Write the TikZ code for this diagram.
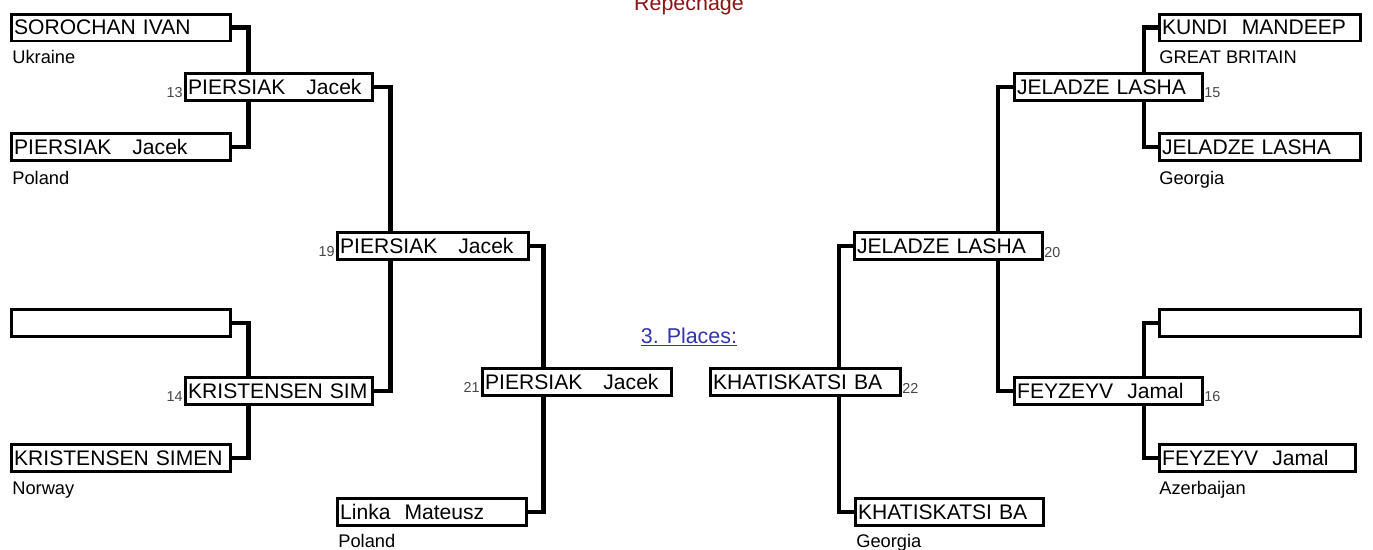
\documentclass[tikz,border=0pt]{standalone}
\usepackage{fontspec}
\setmainfont{Liberation Sans}
\usetikzlibrary{backgrounds}
\definecolor{repred}{RGB}{140,20,20}
\definecolor{placeblue}{RGB}{51,51,170}
\definecolor{numgray}{RGB}{70,70,70}

\begin{document}
\begin{tikzpicture}[x=0.02cm,y=-0.02cm,
  box/.style={draw,fill=white,line width=1.7pt,anchor=west,minimum height=0.54cm,
    text width=#1,inner xsep=1.5pt,inner ysep=0pt,align=left,
    font=\fontsize{12}{14}\selectfont},
  land/.style={anchor=base west,inner sep=0pt,font=\fontsize{10.4}{12}\selectfont},
  nrl/.style={anchor=base east,inner sep=0pt,text=numgray,font=\fontsize{8.2}{10}\selectfont},
  nrr/.style={anchor=base west,inner sep=0pt,text=numgray,font=\fontsize{8.2}{10}\selectfont},
  link/.style={line width=2.8pt}]
\useasboundingbox (0,0) rectangle (1373,549);
% first round, left
\node[box=4.27cm] (sorochan) at (10,27.5) {SOROCHAN IVAN};
\node[land] (ukr) at (12,63) {Ukraine};
\node[box=4.27cm] (piersiakPL) at (10,147) {PIERSIAK\ \ \ Jacek};
\node[land] (pol1) at (12,184) {Poland};
\node[box=4.27cm] (emptyL) at (10,323) {};
\node[box=4.27cm] (kristensen) at (10,458) {\mbox{KRISTENSEN SIMEN}};
\node[land] (nor) at (12,494) {Norway};
% rounds 13, 14, 19, 21
\node[box=3.63cm] (w13) at (184,87) {PIERSIAK\ \ \ Jacek};
\node[nrl] (n13) at (183,97) {13};
\node[box=3.63cm] (w14) at (184,391) {\mbox{KRISTENSEN SIM}};
\node[nrl] (n14) at (183,401) {14};
\node[box=3.71cm] (w19) at (336,246) {PIERSIAK\ \ \ Jacek};
\node[nrl] (n19) at (335,256) {19};
\node[box=3.67cm] (w21) at (481,382) {PIERSIAK\ \ \ Jacek};
\node[nrl] (n21) at (480,392) {21};
\node[box=3.67cm] (linka) at (336,512) {Linka\ \ Mateusz};
\node[land] (pol2) at (338,547) {Poland};
% right side
\node[box=3.69cm] (w22) at (709,382) {KHATISKATSI BA};
\node[nrr] (n22) at (902,393) {22};
\node[box=3.65cm] (khatiskatsi) at (854,512) {KHATISKATSI BA};
\node[land] (geo2) at (856,547) {Georgia};
\node[box=3.65cm] (w20) at (853,246) {JELADZE LASHA};
\node[nrr] (n20) at (1044,257) {20};
\node[box=3.65cm] (w15) at (1013,87) {JELADZE LASHA};
\node[nrr] (n15) at (1204,97) {15};
\node[box=3.65cm] (w16) at (1013,391) {FEYZEYV\ \ Jamal};
\node[nrr] (n16) at (1204,401) {16};
\node[box=3.91cm] (kundi) at (1158,27.5) {KUNDI\ \ MANDEEP};
\node[land] (gbr) at (1159,63) {GREAT BRITAIN};
\node[box=3.91cm] (jeladze) at (1158,147) {JELADZE LASHA};
\node[land] (geo1) at (1159,184) {Georgia};
\node[box=3.91cm] (emptyR) at (1158,323) {};
\node[box=3.81cm] (feyzeyv) at (1158,458) {FEYZEYV\ \ Jamal};
\node[land] (aze) at (1159,494) {Azerbaijan};
% titles
\node[anchor=base,inner sep=0pt,text=repred,font=\fontsize{12.2}{14}\selectfont] (rep) at (689,10) {Repechage};
\node[anchor=base,inner sep=0pt,text=placeblue,font=\fontsize{12.2}{14}\selectfont] (places) at (689,343) {\underline{3. Places:}};
\begin{scope}[on background layer]
\draw[link] (sorochan.east) -- ++(17,0) |- (piersiakPL.east);
\draw[link] (emptyL.east) -- ++(17,0) |- (kristensen.east);
\draw[link] (w13.east) -- ++(17,0) |- (w14.east);
\draw[link] (w19.east) -- ++(14,0) |- (linka.east);
\draw[link] (kundi.west) -- ++(-14,0) |- (jeladze.west);
\draw[link] (emptyR.west) -- ++(-14,0) |- (feyzeyv.west);
\draw[link] (w15.west) -- ++(-15,0) |- (w16.west);
\draw[link] (w20.west) -- ++(-14,0) |- (khatiskatsi.west);
\end{scope}
\end{tikzpicture}
\end{document}
